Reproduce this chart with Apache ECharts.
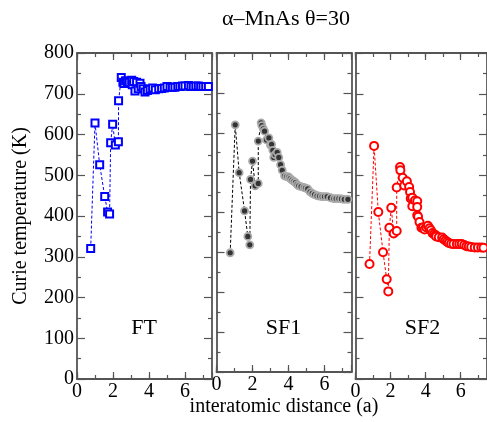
<!DOCTYPE html>
<html>
<head>
<meta charset="utf-8">
<script src="https://cdn.jsdelivr.net/npm/echarts@6/dist/echarts.min.js"></script>
<style>html,body{margin:0;padding:0;background:#fff}#c{width:487px;height:422px}</style>
</head>
<body>
<div id="c"></div>
<script>
const panelNames = ['FT', 'SF1', 'SF2'];
const xTickLabels = ['0', '2', '4', '6'];
const yTickLabels = ['0', '100', '200', '300', '400', '500', '600', '700', '800'];

const ftX = [0.76,1.0,1.26,1.54,1.70,1.81,1.87,1.98,2.13,2.3,2.31,2.46,2.55,2.61,2.7,2.8,2.9,3.04,3.07,3.15,3.22,3.31,3.4,3.5,3.56,3.68,3.78,3.91,4.06,4.2,4.35,4.54,4.7,4.85,5.0,5.17,5.3,5.44,5.6,5.72,5.86,6.0,6.19,6.33,6.46,6.6,6.74,6.87,7.0,7.15,7.3];
const ftY = [320,628,526,448,410,405,580,625,574,582,683,740,728,725,732,730,728,733,722,730,707,728,712,726,718,712,704,708,711,714,710,712,713,714,718,716,716,716,718,718,719,719,720,718,718,719,719,718,718,718,718];

const sf1X = [0.76,1.04,1.26,1.56,1.74,1.85,1.89,2.0,2.15,2.32,2.32,2.48,2.52,2.6,2.67,2.78,2.91,3.0,3.06,3.13,3.18,3.26,3.37,3.46,3.56,3.65,3.78,3.9,4.02,4.1,4.2,4.3,4.39,4.48,4.57,4.7,4.85,4.95,5.07,5.2,5.32,5.45,5.59,5.73,5.87,6.0,6.15,6.33,6.52,6.65,6.8,6.95,7.1,7.3];
const sf1Y = [299,620,500,404,340,319,483,529,467,473,579,625,618,610,604,582,587,569,571,556,538,545,551,538,520,506,492,490,489,485,481,478,475,470,467,465,463,461,459,452,448,445,442,441,440,440,440,437,435,435,435,434,433,433];

const sf2X = [0.8,1.06,1.3,1.57,1.78,1.87,1.93,2.04,2.18,2.35,2.35,2.54,2.56,2.69,2.78,2.93,3.06,3.11,3.15,3.24,3.24,3.39,3.52,3.52,3.52,3.57,3.65,3.76,3.85,3.94,4.04,4.13,4.22,4.3,4.39,4.48,4.57,4.6,4.75,4.94,5.03,5.13,5.22,5.32,5.45,5.59,5.78,5.92,6.06,6.2,6.33,6.46,6.6,6.8,6.98,7.17,7.3];
const sf2Y = [282,572,410,311,245,215,371,420,357,363,470,520,512,494,475,485,471,459,443,445,424,438,436,422,402,398,385,371,372,367,372,376,370,365,358,355,353,350,348,347,343,340,337,334,332,331,331,331,331,329,326,325,324,323,323,323,322];

const zip = (xs, ys) => xs.map((x, i) => [x, ys[i]]);

const FONT = 'Liberation Serif';
const FRAME = '#555';
const gridLefts = [77, 216.5, 355.5];
const grids = gridLefts.map(l => ({ left: l, top: 53, width: 135, height: 326 }));

const labelStyle = { color: '#000', fontFamily: FONT, fontSize: 20 };

const xAxes = [];
const yAxes = [];
grids.forEach((g, gi) => {
  xAxes.push({
    type: 'value', gridIndex: gi, position: 'bottom', min: 0, max: 7.5, interval: 1,
    axisLine: { show: true, onZero: false, lineStyle: { color: FRAME, width: 1.8 } },
    axisTick: { show: true, inside: true, length: 4, lineStyle: { color: FRAME, width: 1.2 } },
    splitLine: { show: false },
    axisLabel: {
      show: true, showMaxLabel: false, margin: 3,
      color: '#000', fontSize: 20, fontFamily: FONT,
      formatter: v => (xTickLabels.indexOf(String(v)) >= 0 ? String(v) : '')
    },
    name: gi === 1 ? 'interatomic distance (a)' : '', nameLocation: 'middle', nameGap: 25,
    nameMoveOverlap: false,
    nameTextStyle: labelStyle
  });
  xAxes.push({
    type: 'value', gridIndex: gi, position: 'bottom', min: 0, max: 7.5, interval: 2,
    axisLine: { show: false, onZero: false },
    axisTick: { show: true, inside: true, length: 7, lineStyle: { color: FRAME, width: 1.2 } },
    splitLine: { show: false }, axisLabel: { show: false }
  });
  xAxes.push({
    type: 'value', gridIndex: gi, position: 'top', min: 0, max: 7.5, interval: 1,
    axisLine: { show: true, onZero: false, lineStyle: { color: FRAME, width: 1.8 } },
    axisTick: { show: true, inside: true, length: 4, lineStyle: { color: FRAME, width: 1.2 } },
    splitLine: { show: false }, axisLabel: { show: false }
  });
  xAxes.push({
    type: 'value', gridIndex: gi, position: 'top', min: 0, max: 7.5, interval: 2,
    axisLine: { show: false, onZero: false },
    axisTick: { show: true, inside: true, length: 7, lineStyle: { color: FRAME, width: 1.2 } },
    splitLine: { show: false }, axisLabel: { show: false }
  });
  ['left', 'right'].forEach(pos => {
    const withLabel = gi === 0 && pos === 'left';
    yAxes.push({
      type: 'value', gridIndex: gi, position: pos, min: 0, max: 800, interval: 100,
      axisLine: { show: true, onZero: false, lineStyle: { color: FRAME, width: 1.8 } },
      axisTick: { show: true, inside: true, length: 8, lineStyle: { color: FRAME, width: 1.2 } },
      minorTick: { show: true, splitNumber: 2, length: 4, lineStyle: { color: FRAME, width: 1.2 } },
      splitLine: { show: false },
      axisLabel: {
        show: withLabel, margin: 3,
        color: '#000', fontFamily: FONT, fontSize: 20,
        formatter: v => yTickLabels[Math.round(v / 100)] || ''
      },
      name: withLabel ? 'Curie temperature (K)' : '', nameLocation: 'middle', nameGap: 46,
      nameMoveOverlap: false,
      nameRotate: 90,
      nameTextStyle: labelStyle
    });
  });
});

const series = [
  {
    name: 'FT', type: 'line', xAxisIndex: 0, yAxisIndex: 0, data: zip(ftX, ftY),
    symbol: 'emptyRect', symbolSize: 7,
    itemStyle: { color: '#0000ff', borderColor: '#0000ff', borderWidth: 1.5 },
    lineStyle: { color: '#0000ff', width: 1, type: [3, 2] }
  },
  {
    name: 'SF1', type: 'line', xAxisIndex: 4, yAxisIndex: 2, data: zip(sf1X, sf1Y),
    symbol: 'circle', symbolSize: 7,
    itemStyle: { color: '#333', borderColor: '#aaa', borderWidth: 1.8 },
    lineStyle: { color: '#000', width: 1, type: [3, 2] }
  },
  {
    name: 'SF2', type: 'line', xAxisIndex: 8, yAxisIndex: 4, data: zip(sf2X, sf2Y),
    symbol: 'emptyCircle', symbolSize: 8,
    itemStyle: { color: '#ff0000', borderColor: '#ff0000', borderWidth: 1.5 },
    lineStyle: { color: '#ff0000', width: 1, type: [3, 2] }
  }
];

const graphic = [
  { type: 'text', x: 286, y: 19, style: { text: 'α–MnAs θ=30', fontFamily: FONT, fontSize: 22, fill: '#000', align: 'center', verticalAlign: 'middle' } }
].concat(panelNames.map((n, i) => ({
  type: 'text', x: gridLefts[i] + 67, y: 328,
  style: { text: n, fontFamily: FONT, fontSize: 22, fill: '#000', align: 'center', verticalAlign: 'middle' }
})));

const chart = echarts.init(document.getElementById('c'), null, { renderer: 'canvas' });
chart.setOption({
  animation: false,
  backgroundColor: '#fff',
  textStyle: { fontFamily: FONT },
  grid: grids,
  xAxis: xAxes,
  yAxis: yAxes,
  series: series,
  graphic: graphic
});
</script>
</body>
</html>
